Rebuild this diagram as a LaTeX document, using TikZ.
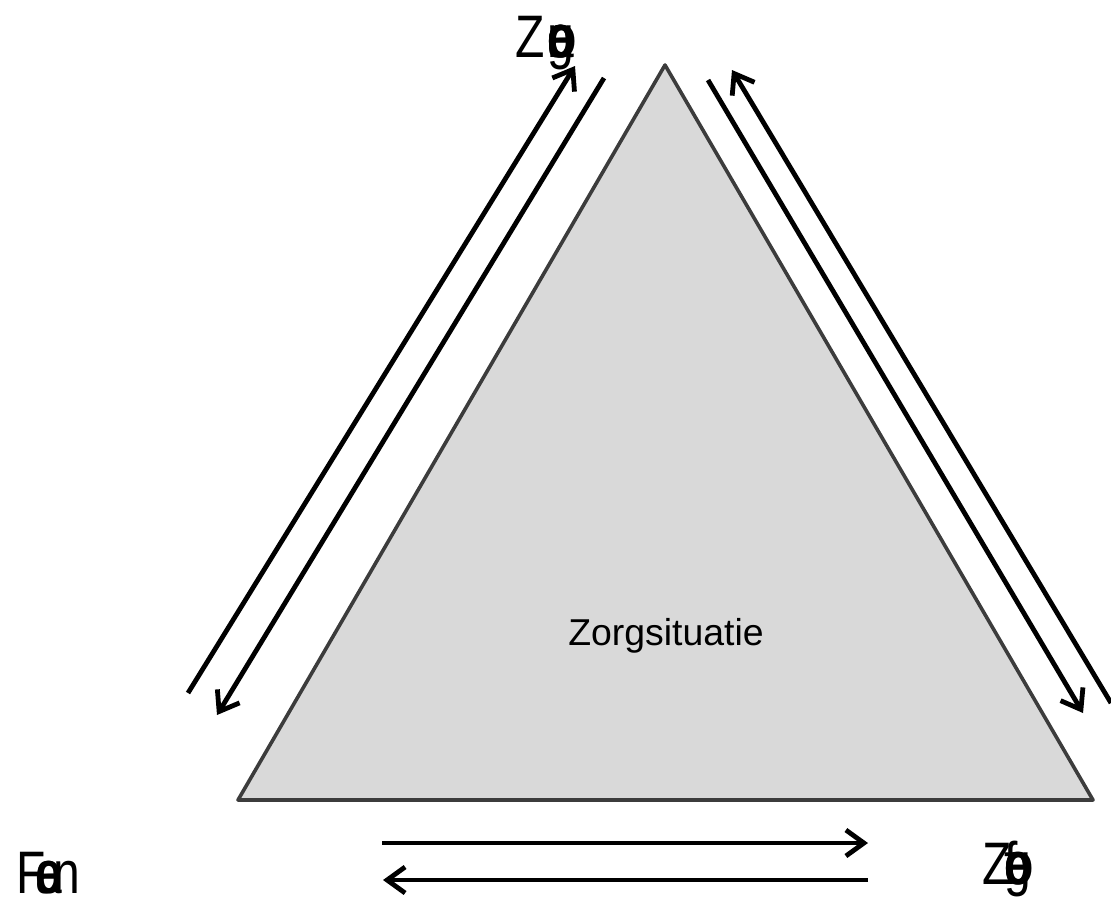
\documentclass[tikz,border=0pt]{standalone}
\usepackage{fontspec}
\setmainfont{Liberation Sans}
\usetikzlibrary{arrows.meta}
\definecolor{sitfill}{HTML}{D9D9D9}
\definecolor{sitedge}{HTML}{3C3C3C}
\tikzset{
  rel/.style={-{Straight Barb[length=9pt,width=13pt]}, line width=2.4pt, draw=black},
  party/.style={anchor=base west, inner sep=0pt, font=\fontsize{30}{32}\selectfont},
}
\newcommand{\ovl}[1]{\rlap{#1}}
\newcommand{\narrow}[1]{\scalebox{0.8}[1]{#1}}

\begin{document}
\begin{tikzpicture}[x=0.5pt, y=-0.5pt,
    situation/.style={draw=sitedge, fill=sitfill, line width=1.8pt, line join=round},
    centre/.style={anchor=base, inner sep=0pt, font=\fontsize{18.7}{22}\selectfont}]
  \useasboundingbox (0,0) rectangle (1111,902);
  % triangle
  \coordinate (apex) at (665,65);
  \coordinate (left) at (238,800);
  \coordinate (right) at (1093,800);
  \draw[situation] (apex) -- (left) -- (right) -- cycle;
  \node[centre] (sit) at (666,645) {Zorgsituatie};
  % parties at the corners
  \node[party] (vrager) at (515,57)
    {\narrow{Z\kern0.05em\ovl{o}\ovl{r}\ovl{a}\ovl{\textbf{e}}\ovl{\textbf{o}}g}};
  \node[party] (familie) at (16,893)
    {\narrow{F\kern-0.22em\ovl{a}\textbf{e}\kern-0.18em n}};
  \node[party] (verlener) at (982,884)
    {\narrow{Z\kern-0.15em\ovl{f}\ovl{\textbf{o}}\ovl{\textbf{e}}g}};
  % arrow ends
  \coordinate (lo0) at (188,693);  \coordinate (lo1) at (575,66);
  \coordinate (li0) at (604,78);   \coordinate (li1) at (217,715);
  \coordinate (ri0) at (708,80);   \coordinate (ri1) at (1083,713);
  \coordinate (ro0) at (1111,703); \coordinate (ro1) at (732,70);
  \coordinate (bt0) at (382,843);  \coordinate (bt1) at (868,843);
  \coordinate (bb0) at (868,880);  \coordinate (bb1) at (383,880);
  \draw[rel] (lo0) -- (lo1);
  \draw[rel] (li0) -- (li1);
  \draw[rel] (ri0) -- (ri1);
  \draw[rel] (ro0) -- (ro1);
  \draw[rel] (bt0) -- (bt1);
  \draw[rel] (bb0) -- (bb1);
\end{tikzpicture}
\end{document}
